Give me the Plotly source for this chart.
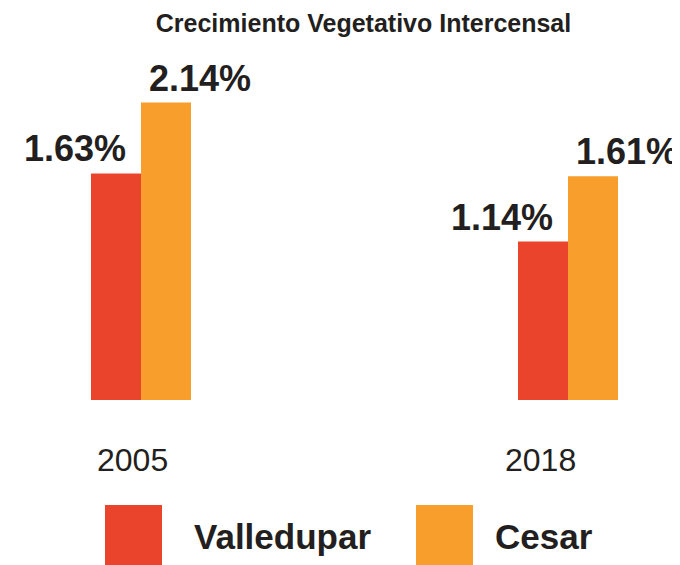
import plotly.graph_objects as go

years = ["2005", "2018"]
series_names = ["Valledupar", "Cesar"]
valledupar = [1.63, 1.14]
cesar = [2.14, 1.61]

RED = "#EB442D"
ORANGE = "#F79E2C"
TXT = "#231F20"
FONT = "Liberation Sans, Arial, sans-serif"

# the page body adds an 8px margin; the figure is sized to fit the remaining window
OFF = 8
W, H = 680 - OFF, 565 - OFF
top = 60 - OFF
base = 400 - OFF                    # baseline pixel in figure coords
bottom = H - base
plot_h = base - top                 # 340 px
px_per_unit_y = 139.0
ymax = plot_h / px_per_unit_y

px_per_cat = 427.0
xmin = -(141.0 - OFF) / px_per_cat
xmax = xmin + W / px_per_cat
bw = 50.0 / px_per_cat

xpos = list(range(len(years)))

fig = go.Figure()
fig.add_trace(go.Bar(x=xpos, y=valledupar, name=series_names[0], marker_color=RED,
                     width=bw, offset=-bw, marker_line_width=0, showlegend=False))
fig.add_trace(go.Bar(x=xpos, y=cesar, name=series_names[1], marker_color=ORANGE,
                     width=bw, offset=0, marker_line_width=0, showlegend=False))

def py(y_abs):
    """window pixel y -> paper coordinate"""
    return (base - (y_abs - OFF)) / plot_h

def px(x_abs):
    return (x_abs - OFF) / W

annotations = []
for i in xpos:
    annotations.append(dict(x=i, y=valledupar[i], xref="x", yref="y",
                            text=f"{valledupar[i]:.2f}%", showarrow=False,
                            xanchor="right", yanchor="bottom", xshift=-13, yshift=2,
                            font=dict(family=FONT, size=36, color=TXT, weight="bold")))
    annotations.append(dict(x=i, y=cesar[i], xref="x", yref="y",
                            text=f"{cesar[i]:.2f}%", showarrow=False,
                            xanchor="left", yanchor="bottom", xshift=6, yshift=2,
                            font=dict(family=FONT, size=36, color=TXT, weight="bold")))
cat_shift = [-9, -28]
for i in xpos:
    annotations.append(dict(x=i, y=py(460), xref="x", yref="paper",
                            text=years[i], showarrow=False, xanchor="center", yanchor="middle",
                            xshift=cat_shift[i],
                            font=dict(family=FONT, size=32, color=TXT)))
shapes = []
leg_sq_x = [105, 416]
leg_txt_x = [192, 493]
leg_colors = [RED, ORANGE]
for k in range(2):
    shapes.append(dict(type="rect", xref="paper", yref="paper",
                       x0=px(leg_sq_x[k]), x1=px(leg_sq_x[k] + 57),
                       y0=py(570), y1=py(505),
                       fillcolor=leg_colors[k], line_width=0))
    annotations.append(dict(x=px(leg_txt_x[k]), y=py(536), xref="paper", yref="paper",
                            text=series_names[k], showarrow=False, xanchor="left", yanchor="middle",
                            font=dict(family=FONT, size=35, color=TXT, weight="bold")))

fig.update_layout(
    width=W, height=H,
    margin=dict(l=0, r=0, t=top, b=bottom),
    paper_bgcolor="white", plot_bgcolor="white",
    title=dict(text="Crecimiento Vegetativo Intercensal", x=px(363.5), xanchor="center",
               y=1 - (23 - OFF) / H, yanchor="middle", xref="paper",
               font=dict(family=FONT, size=25, color=TXT, weight="bold")),
    xaxis=dict(range=[xmin, xmax], visible=False, fixedrange=True),
    yaxis=dict(range=[0, ymax], visible=False, fixedrange=True),
    annotations=annotations, shapes=shapes,
    showlegend=False,
)

fig.write_html("out.html")
